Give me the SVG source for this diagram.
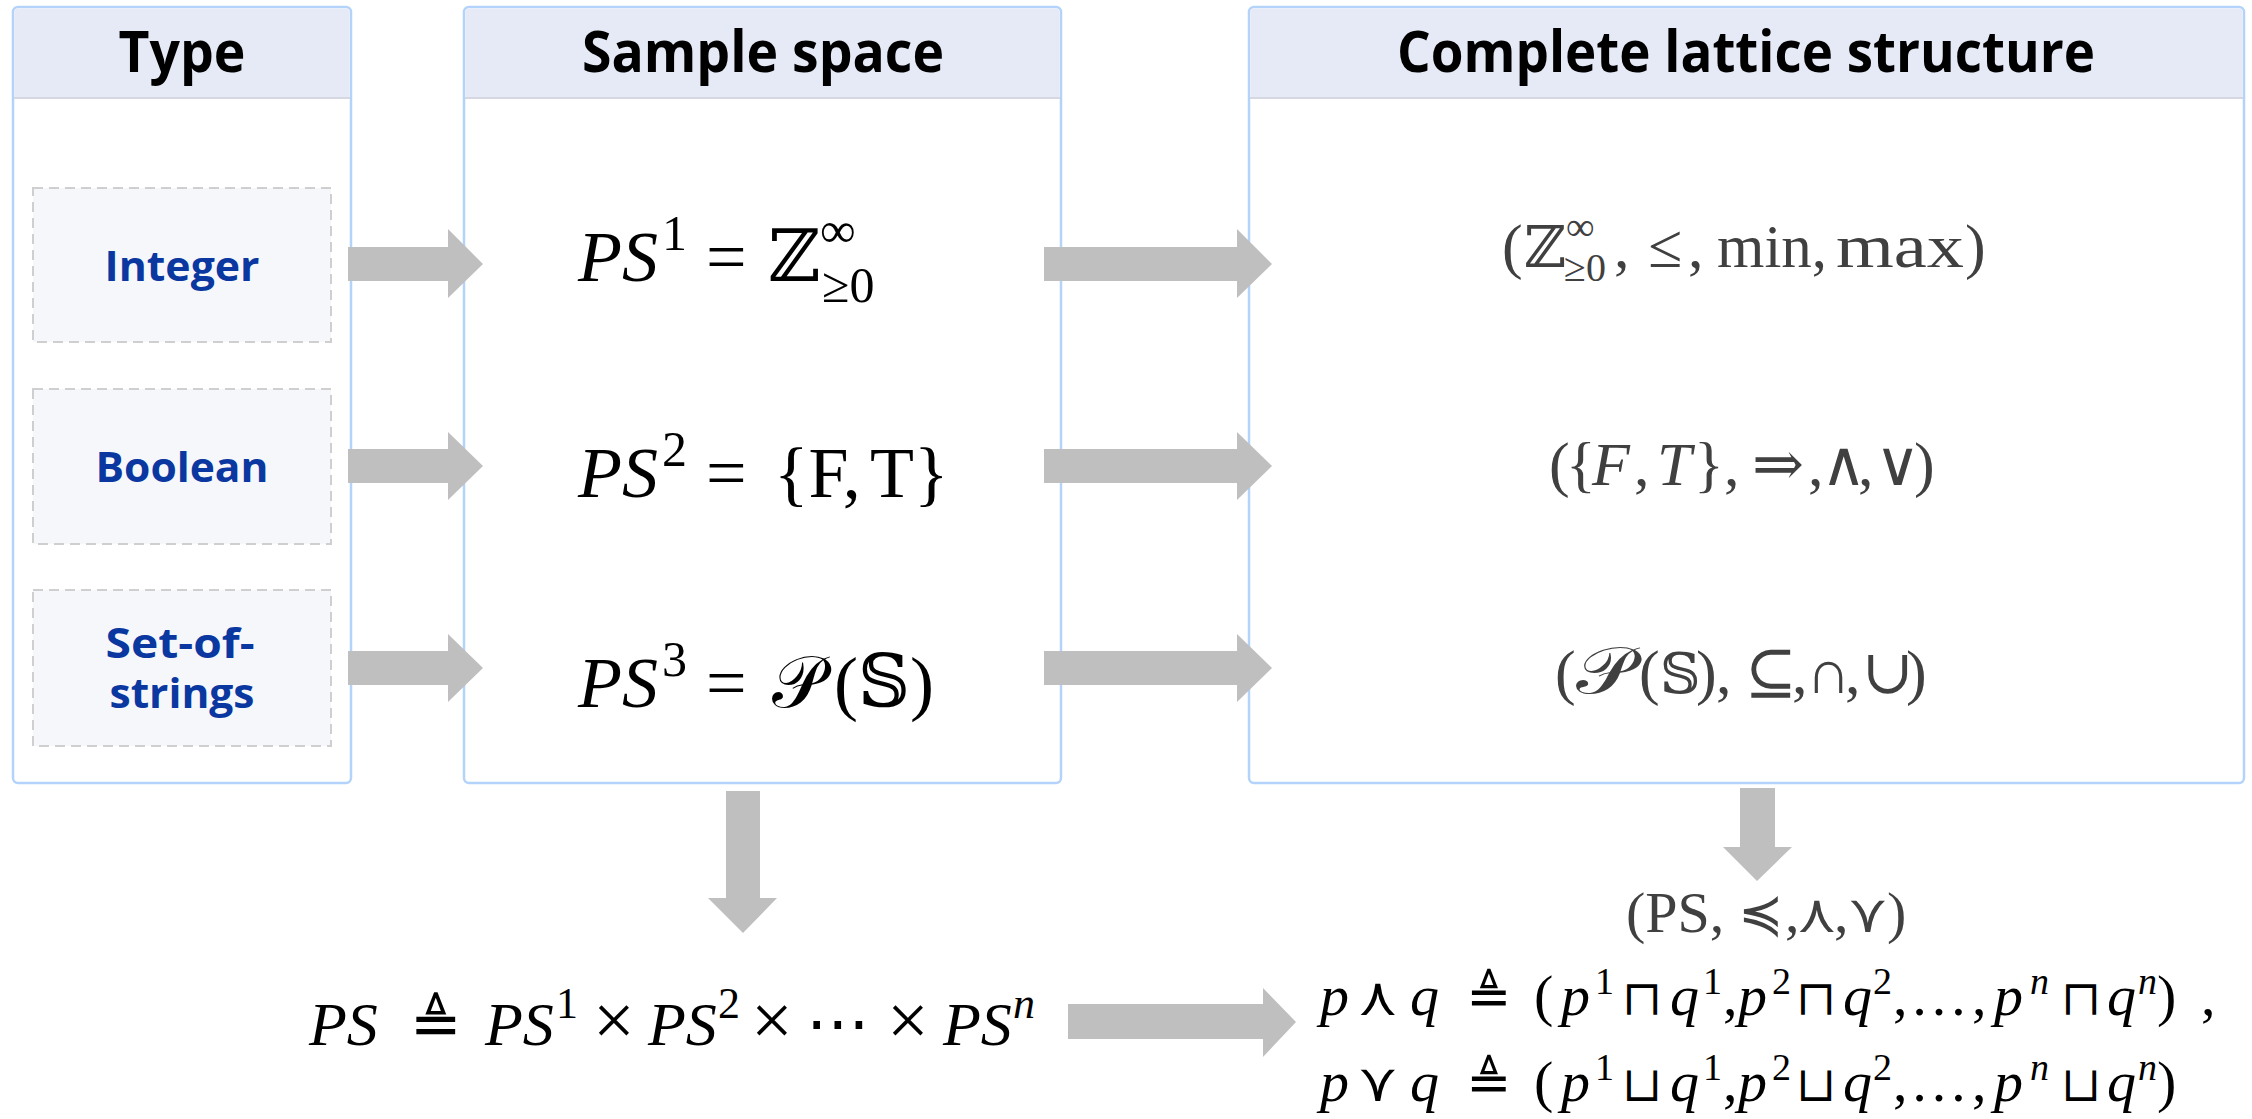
<svg xmlns="http://www.w3.org/2000/svg" width="2252" height="1119" viewBox="0 0 2252 1119">
<style>
.panel{fill:#fff;stroke:#B4D3FA;stroke-width:2.5}
.head{fill:#E6EAF6}
.hline{stroke:#D5D8E0;stroke-width:2}
.htxt{font-family:"Open Sans","Noto Sans","DejaVu Sans",sans-serif;font-weight:700;font-size:58px;fill:#000;text-anchor:middle}
.box{fill:#F6F7FB;stroke:#CFCFCF;stroke-width:2;stroke-dasharray:10 6}
.lbl{font-family:"Open Sans","Noto Sans","DejaVu Sans",sans-serif;font-weight:700;font-size:42px;fill:#0A38A0;text-anchor:middle}
.arr{fill:#BFBFBF}
.m{font-family:"Liberation Serif","DejaVu Serif","DejaVu Sans",serif}
.i{font-style:italic}
.k{fill:#000}
.g{fill:#404040}
.f72{font-size:72px}
.f74{font-size:74px}
.f66{font-size:66px}
.f64{font-size:64px}
.f50{font-size:50px}
.f62{font-size:62px}
.f58{font-size:58px}
.f56{font-size:56px}
.f54{font-size:54px}
.f48{font-size:48px}
.f44{font-size:44px}
.f40{font-size:40px}
.f38{font-size:38px}
</style>

<g id="panel-type">
<rect class="panel" x="13" y="7" width="338" height="776" rx="5"/>
<path class="head" d="M18,8.5 H346 A4,4 0 0 1 349.5,12 V97 H14.5 V12 A4,4 0 0 1 18,8.5 Z"/>
<line class="hline" x1="14" y1="98" x2="350" y2="98"/>
<text class="htxt" x="182" y="72" textLength="127" lengthAdjust="spacingAndGlyphs">Type</text>
</g>

<g id="panel-sample">
<rect class="panel" x="464" y="7" width="597" height="776" rx="5"/>
<path class="head" d="M469,8.5 H1056 A4,4 0 0 1 1059.5,12 V97 H465.5 V12 A4,4 0 0 1 469,8.5 Z"/>
<line class="hline" x1="465" y1="98" x2="1060" y2="98"/>
<text class="htxt" x="763" y="72" textLength="362" lengthAdjust="spacingAndGlyphs">Sample space</text>
</g>

<g id="panel-lattice">
<rect class="panel" x="1249" y="7" width="995" height="776" rx="5"/>
<path class="head" d="M1254,8.5 H2239 A4,4 0 0 1 2242.5,12 V97 H1250.5 V12 A4,4 0 0 1 1254,8.5 Z"/>
<line class="hline" x1="1250" y1="98" x2="2243" y2="98"/>
<text class="htxt" x="1746" y="72" textLength="698" lengthAdjust="spacingAndGlyphs">Complete lattice structure</text>
</g>

<g id="node-integer">
<rect class="box" x="33" y="188" width="298" height="154"/>
<text class="lbl" x="182" y="281" textLength="155" lengthAdjust="spacingAndGlyphs">Integer</text>
</g>
<g id="node-boolean">
<rect class="box" x="33" y="389" width="298" height="155"/>
<text class="lbl" x="182" y="482" textLength="173" lengthAdjust="spacingAndGlyphs">Boolean</text>
</g>
<g id="node-setofstrings">
<rect class="box" x="33" y="590" width="298" height="156"/>
<text class="lbl" x="180" y="658" textLength="149" lengthAdjust="spacingAndGlyphs">Set-of-</text>
<text class="lbl" x="182" y="708" textLength="145" lengthAdjust="spacingAndGlyphs">strings</text>
</g>

<g id="node-ps1">
<text class="m k f72" y="281"><tspan class="i" x="578">PS</tspan><tspan class="f50" x="662" y="250">1</tspan><tspan x="706" y="281">=</tspan><tspan x="768" y="281">ℤ</tspan><tspan class="f50" x="820" y="247">∞</tspan><tspan class="f50" x="822" y="302">≥0</tspan></text>
</g>
<g id="node-ps2">
<text class="m k f72" y="497"><tspan class="i" x="578">PS</tspan><tspan class="f50" x="662" y="466">2</tspan><tspan x="706" y="497">=</tspan><tspan x="774" y="497">{F,</tspan><tspan x="870">T}</tspan></text>
</g>
<g id="node-ps3">
<text class="m k f72" y="707"><tspan class="i" x="578">PS</tspan><tspan class="f50" x="662" y="676">3</tspan><tspan x="706" y="707">=</tspan><tspan x="772" y="707">𝒫</tspan><tspan x="834" y="707">(𝕊)</tspan></text>
</g>

<g id="node-lat1">
<text class="m g f62" y="267"><tspan x="1502">(</tspan><tspan class="f58" x="1524">ℤ</tspan><tspan class="f40" x="1566" y="240">∞</tspan><tspan class="f40" x="1564" y="281">≥0</tspan><tspan x="1614" y="267">,</tspan><tspan x="1648">≤</tspan><tspan x="1688">,</tspan><tspan x="1717" textLength="110" lengthAdjust="spacingAndGlyphs">min,</tspan><tspan x="1836" textLength="128" lengthAdjust="spacingAndGlyphs">max</tspan><tspan x="1965">)</tspan></text>
</g>
<g id="node-lat2">
<text class="m g f62" y="485"><tspan x="1549">(</tspan><tspan x="1566">{</tspan><tspan class="i" x="1592">F</tspan><tspan x="1634">,</tspan><tspan class="i" x="1657">T</tspan><tspan x="1694">}</tspan><tspan x="1724">,</tspan><tspan x="1752">⇒</tspan><tspan x="1808">,</tspan><tspan x="1821">∧</tspan><tspan x="1858">,</tspan><tspan x="1875">∨</tspan><tspan x="1914">)</tspan></text>
</g>
<g id="node-lat3">
<text class="m g f62" y="693"><tspan x="1555">(</tspan><tspan class="f66" x="1576" textLength="58" lengthAdjust="spacingAndGlyphs">𝒫</tspan><tspan x="1639">(</tspan><tspan class="f56" x="1660">𝕊</tspan><tspan x="1696">)</tspan><tspan x="1716">,</tspan><tspan x="1745">⊆</tspan><tspan x="1792">,</tspan><tspan x="1806">∩</tspan><tspan x="1845">,</tspan><tspan x="1862">∪</tspan><tspan x="1906">)</tspan></text>
</g>

<g id="node-ps">
<text class="m k f62" y="1045"><tspan class="i" x="309">PS</tspan><tspan x="410">≜</tspan><tspan class="i" x="485">PS</tspan><tspan class="f44" x="556" y="1018">1</tspan><tspan class="f74" x="593" y="1045">×</tspan><tspan class="i" x="648">PS</tspan><tspan class="f44" x="718" y="1018">2</tspan><tspan class="f74" x="751" y="1045">×</tspan><tspan class="f64" x="806">⋯</tspan><tspan class="f74" x="887">×</tspan><tspan class="i" x="943">PS</tspan><tspan class="f44 i" x="1013" y="1018">n</tspan></text>
</g>

<g id="node-lattice-ps">
<text class="m g f58" y="932"><tspan x="1626">(PS,</tspan><tspan class="f54" x="1738">≼</tspan><tspan x="1785">,</tspan><tspan class="f54" x="1797">⋏</tspan><tspan x="1834">,</tspan><tspan class="f54" x="1848">⋎</tspan><tspan x="1887">)</tspan></text>
</g>

<g id="node-meet">
<text class="m k f58" y="1015"><tspan class="i" x="1320">p</tspan><tspan class="f54" x="1358">⋏</tspan><tspan class="i" x="1410">q</tspan><tspan class="f54" x="1466">≜</tspan><tspan x="1534">(</tspan><tspan class="i" x="1561">p</tspan><tspan class="f38" x="1595" y="994">1</tspan><tspan class="f48" x="1622" y="1015">⊓</tspan><tspan class="i" x="1670">q</tspan><tspan class="f38" x="1703" y="994">1</tspan><tspan x="1723" y="1015">,</tspan><tspan class="i" x="1738">p</tspan><tspan class="f38" x="1772" y="994">2</tspan><tspan class="f48" x="1796" y="1015">⊓</tspan><tspan class="i" x="1843">q</tspan><tspan class="f38" x="1873" y="994">2</tspan><tspan x="1893" y="1015">,</tspan><tspan x="1910">…</tspan><tspan x="1972">,</tspan><tspan class="i" x="1994">p</tspan><tspan class="f38 i" x="2030" y="994">n</tspan><tspan class="f48" x="2061" y="1015">⊓</tspan><tspan class="i" x="2107">q</tspan><tspan class="f38 i" x="2138" y="994">n</tspan><tspan x="2157" y="1015">)</tspan><tspan x="2201">,</tspan></text>
</g>
<g id="node-join">
<text class="m k f58" y="1101"><tspan class="i" x="1320">p</tspan><tspan class="f54" x="1358">⋎</tspan><tspan class="i" x="1410">q</tspan><tspan class="f54" x="1466">≜</tspan><tspan x="1534">(</tspan><tspan class="i" x="1561">p</tspan><tspan class="f38" x="1595" y="1080">1</tspan><tspan class="f48" x="1622" y="1101">⊔</tspan><tspan class="i" x="1670">q</tspan><tspan class="f38" x="1703" y="1080">1</tspan><tspan x="1723" y="1101">,</tspan><tspan class="i" x="1738">p</tspan><tspan class="f38" x="1772" y="1080">2</tspan><tspan class="f48" x="1796" y="1101">⊔</tspan><tspan class="i" x="1843">q</tspan><tspan class="f38" x="1873" y="1080">2</tspan><tspan x="1893" y="1101">,</tspan><tspan x="1910">…</tspan><tspan x="1972">,</tspan><tspan class="i" x="1994">p</tspan><tspan class="f38 i" x="2030" y="1080">n</tspan><tspan class="f48" x="2061" y="1101">⊔</tspan><tspan class="i" x="2107">q</tspan><tspan class="f38 i" x="2138" y="1080">n</tspan><tspan x="2157" y="1101">)</tspan></text>
</g>

<g id="connectors">
<polygon class="arr" points="348,247 448,247 448,229 483,264 448,298 448,281 348,281"/>
<polygon class="arr" points="348,449 448,449 448,432 483,466 448,500 448,483 348,483"/>
<polygon class="arr" points="348,651 448,651 448,634 483,668 448,702 448,685 348,685"/>
<polygon class="arr" points="1044,247 1237,247 1237,229 1272,264 1237,298 1237,281 1044,281"/>
<polygon class="arr" points="1044,449 1237,449 1237,432 1272,466 1237,500 1237,483 1044,483"/>
<polygon class="arr" points="1044,651 1237,651 1237,634 1272,668 1237,702 1237,685 1044,685"/>
<polygon class="arr" points="726,791 760,791 760,898 777,898 743,933 708,898 726,898"/>
<polygon class="arr" points="1068,1004 1263,1004 1263,988 1296,1022 1263,1057 1263,1039 1068,1039"/>
<polygon class="arr" points="1740,788 1775,788 1775,847 1792,847 1757,881 1723,847 1740,847"/>
</g>
</svg>
